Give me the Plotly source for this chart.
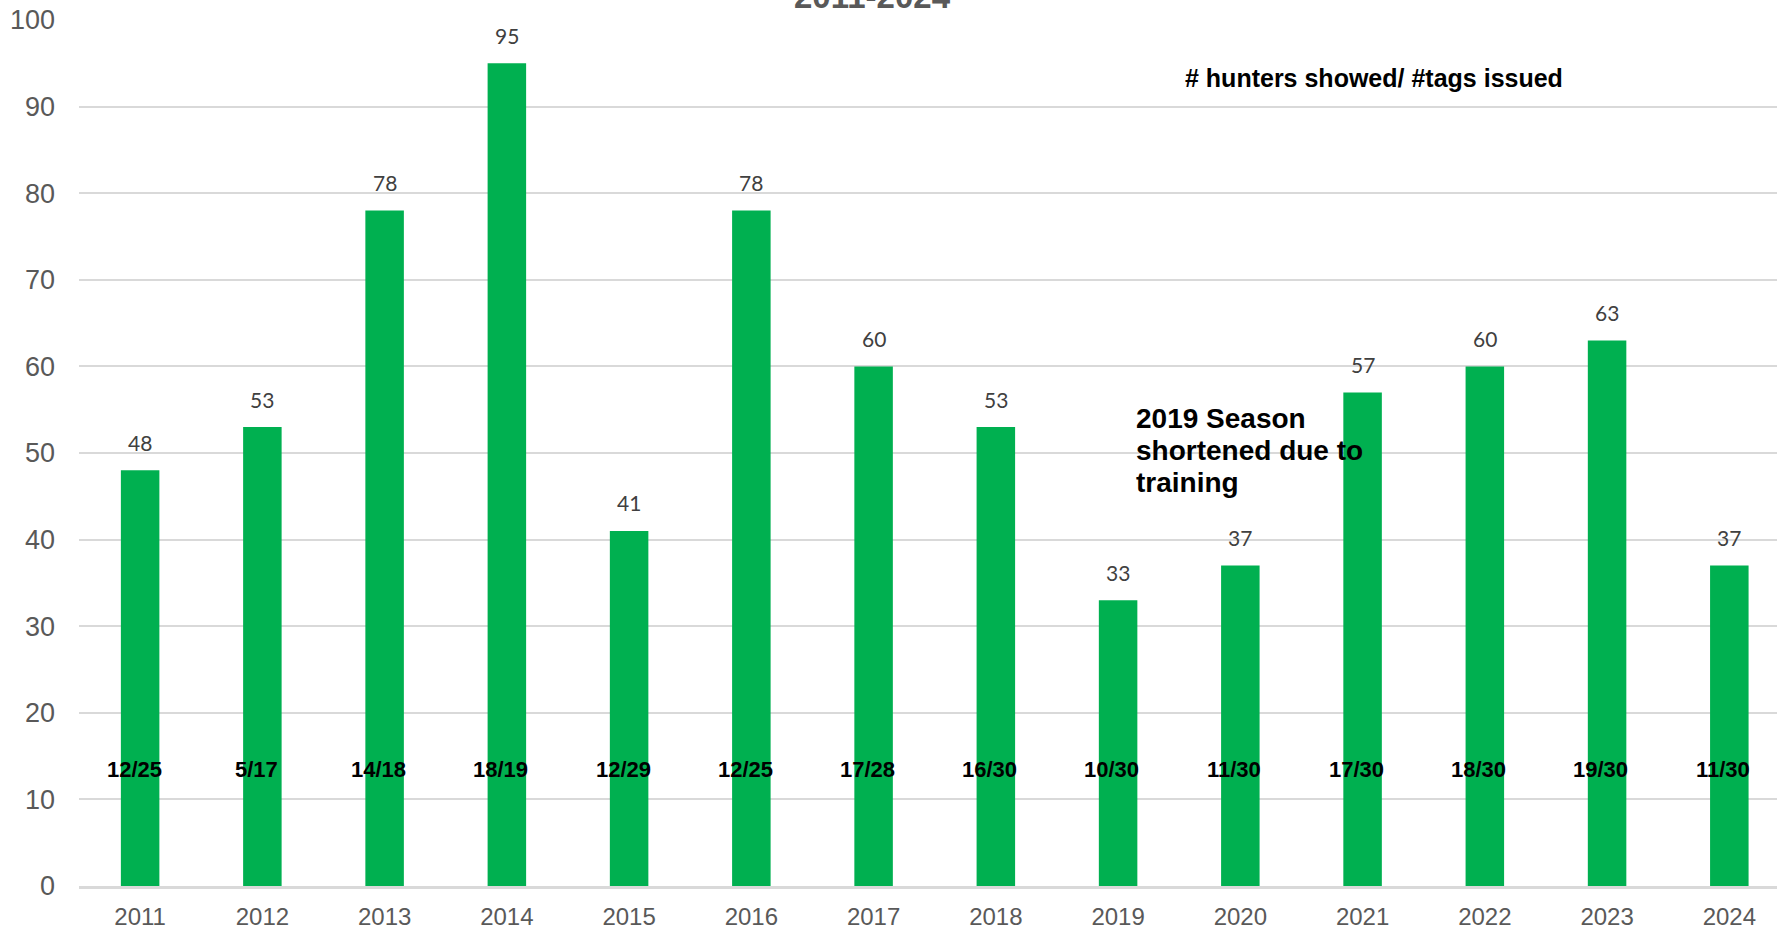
import plotly.graph_objects as go

years = ["2011", "2012", "2013", "2014", "2015", "2016", "2017",
         "2018", "2019", "2020", "2021", "2022", "2023", "2024"]
values = [48, 53, 78, 95, 41, 78, 60, 53, 33, 37, 57, 60, 63, 37]
ratios = ["12/25", "5/17", "14/18", "18/19", "12/29", "12/25", "17/28",
          "16/30", "10/30", "11/30", "17/30", "18/30", "19/30", "11/30"]
y_ticks = [0, 10, 20, 30, 40, 50, 60, 70, 80, 90, 100]
title_text = "2011-2024"
legend_note = "# hunters showed/ #tags issued"
note_lines = ["2019 Season", "shortened due to", "training"]

GREEN = "#00B050"
GRAY = "#595959"

fig = go.Figure()
fig.add_trace(go.Bar(
    x=years, y=values, marker_color=GREEN, marker_line_width=0,
    width=0.315, hoverinfo="x+y",
))

annotations = []
# value labels above bars
for i, v in enumerate(values):
    annotations.append(dict(
        x=i, y=v, xref="x", yref="y", text=str(v), showarrow=False,
        yanchor="middle", yshift=28,
        font=dict(family="Lato, Carlito, Calibri, sans-serif", size=21, color="#404040"),
    ))
# ratio labels inside bars
for i, r in enumerate(ratios):
    annotations.append(dict(
        x=i - 0.05, y=13.4, xref="x", yref="y", text=r, showarrow=False,
        yanchor="middle",
        font=dict(family="Liberation Sans Narrow, Arial Narrow, Liberation Sans, Arial, sans-serif",
                  size=22, color="black", weight="bold"),
    ))
# cut-off title
annotations.append(dict(
    x=0.4676, y=1, xref="paper", yref="paper", text="<b>" + title_text + "</b>",
    showarrow=False, xanchor="center", yanchor="middle", yshift=24,
    font=dict(family="Liberation Sans, Arial, sans-serif", size=33, color=GRAY),
))
# legend note
annotations.append(dict(
    x=8.53, y=93.3, xref="x", yref="y", text="<b>" + legend_note + "</b>",
    showarrow=False, xanchor="left", yanchor="middle",
    font=dict(family="Liberation Sans, Arial, sans-serif", size=25, color="black"),
))
# 2019 note lines
for line, yv in zip(note_lines, [54.0, 50.3, 46.6]):
    annotations.append(dict(
        x=8.13, y=yv, xref="x", yref="y", text="<b>" + line + "</b>",
        showarrow=False, xanchor="left", yanchor="middle",
        font=dict(family="Liberation Sans, Arial, sans-serif", size=28, color="black"),
    ))

fig.update_layout(
    width=1777, height=932,
    margin=dict(l=79, r=0, t=20, b=46),
    paper_bgcolor="white", plot_bgcolor="white",
    showlegend=False,
    annotations=annotations,
    font=dict(family="Liberation Sans, Arial, sans-serif", color=GRAY),
)
fig.update_xaxes(
    type="category", range=[-0.5, 13.39], showgrid=False,
    showline=True, linecolor="#d9d9d9", linewidth=2.5,
    ticks="", tickfont=dict(size=24, color=GRAY), ticklabelstandoff=7,
)
fig.update_yaxes(
    range=[0, 100], tickvals=y_ticks, showgrid=True, gridcolor="#d9d9d9",
    gridwidth=1.5, zeroline=False, showline=False, ticks="",
    tickfont=dict(size=27, color=GRAY), ticklabelstandoff=23,
)

fig.write_html(
    "out.html",
    config={"displayModeBar": False},
    post_script="document.body.style.margin='0';document.body.style.overflow='hidden';",
)
